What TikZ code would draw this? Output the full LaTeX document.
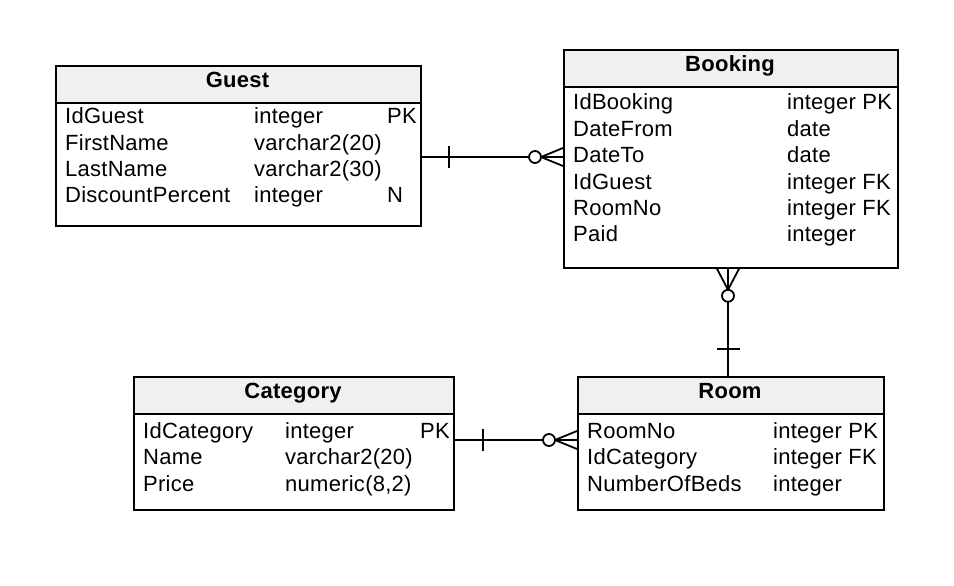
\documentclass[tikz,border=0pt]{standalone}
\usepackage{fontspec}
\setmainfont[LetterSpace=1.2]{Liberation Sans}
\usetikzlibrary{calc}
\definecolor{hdrgray}{HTML}{F0F0F0}
\tikzset{
  tbl/.style={draw, line width=1.8pt, fill=white, inner sep=0pt, anchor=north west},
  hdr/.style={draw, line width=1.8pt, fill=hdrgray, inner sep=0pt, anchor=north west},
  title/.style={anchor=base, inner sep=0pt, font=\fontsize{22}{26}\selectfont\bfseries},
  cell/.style={anchor=base west, inner sep=0pt, font=\fontsize{22}{26}\selectfont},
  rel/.style={line width=1.8pt},
  crowcircle/.style={circle, draw, line width=1.8pt, fill=white, minimum size=12pt, inner sep=0pt}
}
\begin{document}
\begin{tikzpicture}[x=1pt,y=-1pt]
\useasboundingbox (0,0) rectangle (954,586);
% ---------- Guest ----------
\node[tbl, minimum width=365pt, minimum height=160pt] (guest) at (55,65) {};
\node[hdr, minimum width=365pt, minimum height=37pt] (guesthd) at (55,65) {};
\node[title] (guestt) at (237.5,88) {Guest};
\node[cell] (g11) at (65,124) {IdGuest};
\node[cell] (g12) at (254,124) {integer};
\node[cell] (g13) at (387,124) {PK};
\node[cell] (g21) at (65,150) {FirstName};
\node[cell] (g22) at (254,150) {varchar2(20)};
\node[cell] (g31) at (65,176) {LastName};
\node[cell] (g32) at (254,176) {varchar2(30)};
\node[cell] (g41) at (65,202) {DiscountPercent};
\node[cell] (g42) at (254,202) {integer};
\node[cell] (g43) at (387,202) {N};
% ---------- Booking ----------
\node[tbl, minimum width=334pt, minimum height=218pt] (booking) at (563,49) {};
\node[hdr, minimum width=334pt, minimum height=37pt] (bookinghd) at (563,49) {};
\node[title] (bookingt) at (730,72) {Booking};
\node[cell] (b11) at (573,110) {IdBooking};
\node[cell] (b12) at (787,110) {integer PK};
\node[cell] (b21) at (573,136) {DateFrom};
\node[cell] (b22) at (787,136) {date};
\node[cell] (b31) at (573,162) {DateTo};
\node[cell] (b32) at (787,162) {date};
\node[cell] (b41) at (573,189) {IdGuest};
\node[cell] (b42) at (787,189) {integer FK};
\node[cell] (b51) at (573,215) {RoomNo};
\node[cell] (b52) at (787,215) {integer FK};
\node[cell] (b61) at (573,241) {Paid};
\node[cell] (b62) at (787,241) {integer};
% ---------- Category ----------
\node[tbl, minimum width=320pt, minimum height=133pt] (category) at (133,376) {};
\node[hdr, minimum width=320pt, minimum height=37pt] (categoryhd) at (133,376) {};
\node[title] (categoryt) at (293,398) {Category};
\node[cell] (c11) at (143,438) {IdCategory};
\node[cell] (c12) at (285,438) {integer};
\node[cell] (c13) at (420,438) {PK};
\node[cell] (c21) at (143,464) {Name};
\node[cell] (c22) at (285,464) {varchar2(20)};
\node[cell] (c31) at (143,491) {Price};
\node[cell] (c32) at (285,491) {numeric(8,2)};
% ---------- Room ----------
\node[tbl, minimum width=306pt, minimum height=133pt] (room) at (577,376) {};
\node[hdr, minimum width=306pt, minimum height=37pt] (roomhd) at (577,376) {};
\node[title] (roomt) at (730,398) {Room};
\node[cell] (r11) at (587,438) {RoomNo};
\node[cell] (r12) at (773,438) {integer PK};
\node[cell] (r21) at (587,464) {IdCategory};
\node[cell] (r22) at (773,464) {integer FK};
\node[cell] (r31) at (587,491) {NumberOfBeds};
\node[cell] (r32) at (773,491) {integer};
% ---------- Guest -- Booking ----------
\coordinate (gb1) at (guest.east |- 0,157);
\coordinate (gb2) at (booking.west |- 0,157);
\draw[rel] (gb1) -- (gb2);
\draw[rel] ($(gb1)+(27,-11)$) -- ($(gb1)+(27,11)$);
\coordinate (gbap) at ($(gb2)+(-22,0)$);
\draw[rel] (gbap) -- ($(gb2)+(0,-9)$);
\draw[rel] (gbap) -- ($(gb2)+(0,9)$);
\node[crowcircle] (gbc) at ($(gb2)+(-28,0)$) {};
% ---------- Booking -- Room ----------
\coordinate (br1) at (booking.south -| 728,0);
\coordinate (br2) at (room.north -| 728,0);
\draw[rel] (br1) -- (br2);
\coordinate (brap) at ($(br1)+(0,21)$);
\draw[rel] (brap) -- ($(br1)+(-11,0)$);
\draw[rel] (brap) -- ($(br1)+(11,0)$);
\node[crowcircle] (brc) at ($(br1)+(0,27)$) {};
\draw[rel] ($(br2)+(-11,-27)$) -- ($(br2)+(12,-27)$);
% ---------- Category -- Room ----------
\coordinate (cr1) at (category.east |- 0,440);
\coordinate (cr2) at (room.west |- 0,440);
\draw[rel] (cr1) -- (cr2);
\draw[rel] ($(cr1)+(28,-11)$) -- ($(cr1)+(28,11)$);
\coordinate (crap) at ($(cr2)+(-22,0)$);
\draw[rel] (crap) -- ($(cr2)+(0,-9)$);
\draw[rel] (crap) -- ($(cr2)+(0,9)$);
\node[crowcircle] (crc) at ($(cr2)+(-28,0)$) {};
\end{tikzpicture}
\end{document}
